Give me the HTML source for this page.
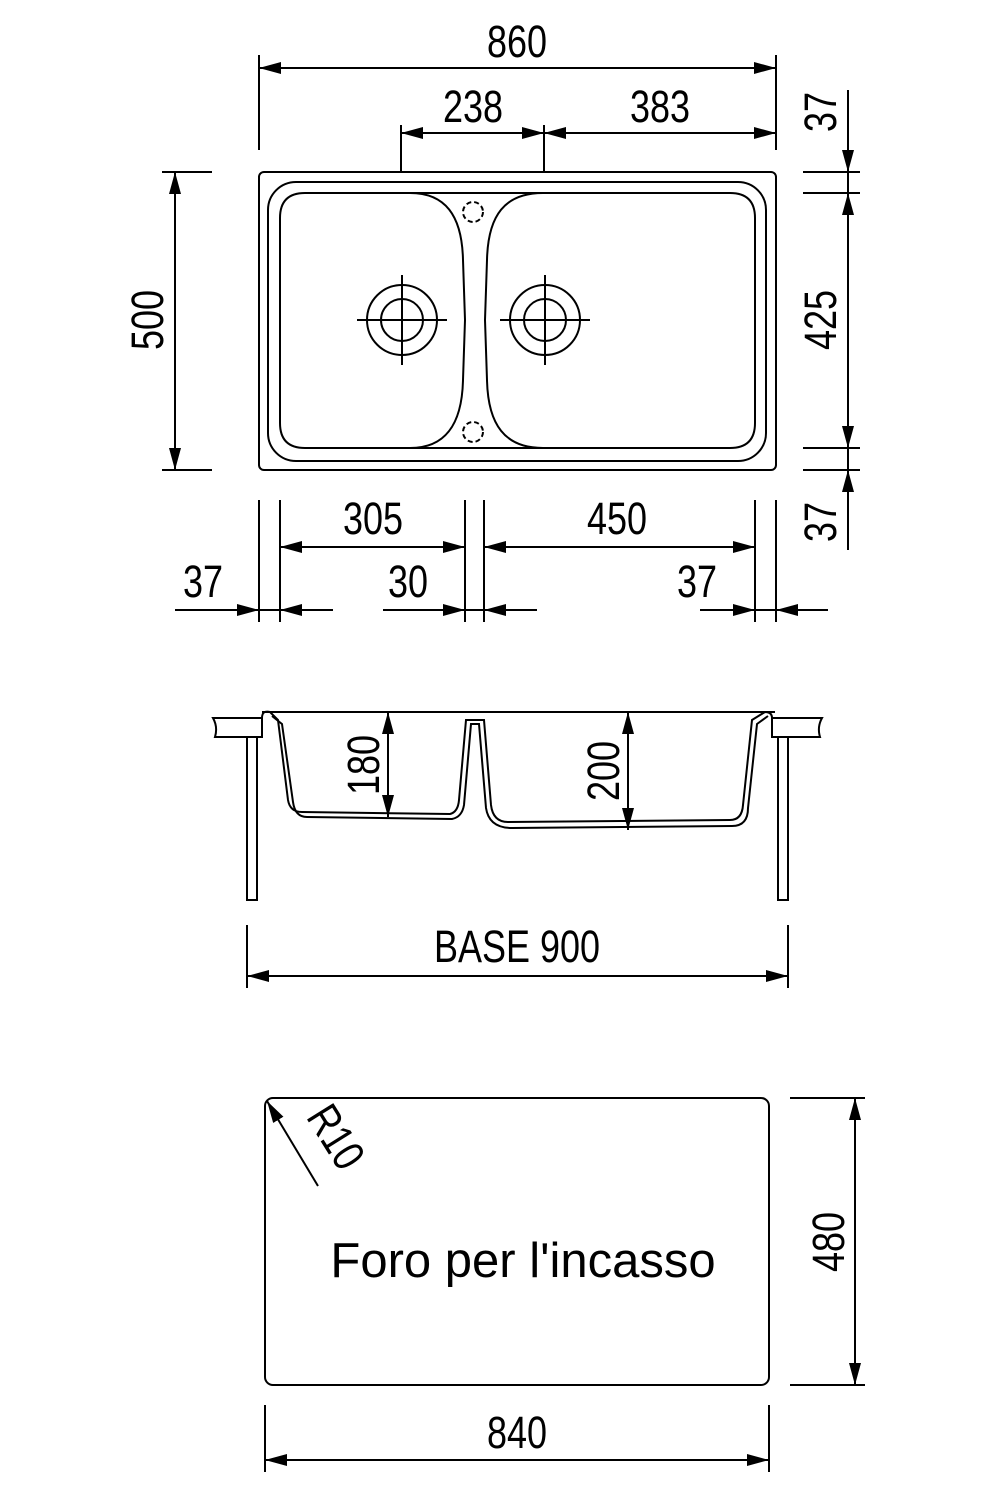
<!DOCTYPE html>
<html><head><meta charset="utf-8"><style>
html,body{margin:0;padding:0;background:#fff}
svg{display:block}
text{font-family:"Liberation Sans",sans-serif;fill:#000}
.d{font-size:45px}
</style></head><body>
<svg width="1000" height="1500" viewBox="0 0 1000 1500" xmlns="http://www.w3.org/2000/svg">
<defs>
<marker id="a" viewBox="0 0 22 12" refX="22" refY="6" markerWidth="22" markerHeight="12" markerUnits="userSpaceOnUse" orient="auto-start-reverse"><path d="M0,0 L22,6 L0,12 Z" fill="#000"/></marker>
</defs>
<g fill="none" stroke="#000" stroke-width="2">
<rect x="259" y="172" width="517" height="298" rx="5"/>
<rect x="268" y="182" width="498" height="279" rx="28"/>
<path d="M305,193 L410,193 C445,193 462,215 463,260 L465,320 L463,380 C462,425 445,448 410,448 L305,448 Q280,448 280,423 L280,218 Q280,193 305,193 Z"/>
<path d="M543,193 L730,193 Q755,193 755,218 L755,423 Q755,448 730,448 L543,448 C505,448 488,425 487,380 L485,320 L487,260 C488,215 505,193 543,193 Z"/>
<line x1="410" y1="193" x2="543" y2="193"/>
<line x1="410" y1="448" x2="543" y2="448"/>
<circle cx="402" cy="320" r="35"/><circle cx="402" cy="320" r="21"/>
<circle cx="545" cy="320" r="35"/><circle cx="545" cy="320" r="21"/>
<line x1="357" y1="320" x2="447" y2="320"/><line x1="402" y1="275" x2="402" y2="365"/>
<line x1="500" y1="320" x2="590" y2="320"/><line x1="545" y1="275" x2="545" y2="365"/>
<circle cx="473" cy="212" r="10" stroke-dasharray="5,3"/>
<circle cx="473" cy="432" r="10" stroke-dasharray="5,3"/>
<line x1="259" y1="55" x2="259" y2="150"/><line x1="776" y1="55" x2="776" y2="150"/>
<line x1="259" y1="68" x2="776" y2="68" marker-start="url(#a)" marker-end="url(#a)"/>
<line x1="401" y1="125" x2="401" y2="172"/><line x1="544" y1="125" x2="544" y2="172"/>
<line x1="401" y1="133" x2="544" y2="133" marker-start="url(#a)" marker-end="url(#a)"/>
<line x1="544" y1="133" x2="776" y2="133" marker-start="url(#a)" marker-end="url(#a)"/>
<line x1="162" y1="172" x2="212" y2="172"/><line x1="162" y1="470" x2="212" y2="470"/>
<line x1="175" y1="172" x2="175" y2="470" marker-start="url(#a)" marker-end="url(#a)"/>
<line x1="803" y1="172" x2="860" y2="172"/><line x1="803" y1="193" x2="860" y2="193"/>
<line x1="803" y1="448" x2="860" y2="448"/><line x1="803" y1="470" x2="860" y2="470"/>
<line x1="848" y1="90" x2="848" y2="172" marker-end="url(#a)"/>
<line x1="848" y1="193" x2="848" y2="448" marker-start="url(#a)" marker-end="url(#a)"/>
<line x1="848" y1="550" x2="848" y2="470" marker-end="url(#a)"/>
<line x1="848" y1="172" x2="848" y2="193"/>
<line x1="848" y1="448" x2="848" y2="470"/>
<line x1="259" y1="500" x2="259" y2="622"/><line x1="280" y1="500" x2="280" y2="622"/>
<line x1="465" y1="500" x2="465" y2="622"/><line x1="484" y1="500" x2="484" y2="622"/>
<line x1="755" y1="500" x2="755" y2="622"/><line x1="776" y1="500" x2="776" y2="622"/>
<line x1="280" y1="547" x2="465" y2="547" marker-start="url(#a)" marker-end="url(#a)"/>
<line x1="484" y1="547" x2="755" y2="547" marker-start="url(#a)" marker-end="url(#a)"/>
<line x1="175" y1="610" x2="259" y2="610" marker-end="url(#a)"/>
<line x1="333" y1="610" x2="280" y2="610" marker-end="url(#a)"/>
<line x1="259" y1="610" x2="280" y2="610"/>
<line x1="383" y1="610" x2="465" y2="610" marker-end="url(#a)"/>
<line x1="537" y1="610" x2="484" y2="610" marker-end="url(#a)"/>
<line x1="465" y1="610" x2="484" y2="610"/>
<line x1="700" y1="610" x2="755" y2="610" marker-end="url(#a)"/>
<line x1="828" y1="610" x2="776" y2="610" marker-end="url(#a)"/>
<line x1="755" y1="610" x2="776" y2="610"/>
<path d="M213,718 L262,718 L262,737 L215,737 Q218,727 213,718 Z"/>
<path d="M822,718 L772,718 L772,737 L820,737 Q817,727 822,718 Z"/>
<rect x="247" y="737" width="10" height="163"/>
<rect x="778" y="737" width="10" height="163"/>
<line x1="262" y1="712" x2="775" y2="712"/>
<path d="M262,718 Q262,710 270,712 L278,720 L288,800 Q290,812 302,812 L450,814 Q458,812 459,800 L466,720 L484,720 L491,805 Q493,822 508,822 L730,820 Q742,820 743,805 L752,720 L765,712 Q772,712 772,718"/>
<path d="M272,716 L282,724 L293,802 Q295,817 307,817 L452,819 Q462,817 464,805 L471,724 L479,724 L486,808 Q489,828 512,828 L732,826 Q748,826 748,808 L757,724 L768,716"/>
<line x1="388" y1="712" x2="388" y2="817" marker-start="url(#a)" marker-end="url(#a)"/>
<line x1="628" y1="712" x2="628" y2="830" marker-start="url(#a)" marker-end="url(#a)"/>
<line x1="247" y1="925" x2="247" y2="988"/><line x1="788" y1="925" x2="788" y2="988"/>
<line x1="247" y1="976" x2="788" y2="976" marker-start="url(#a)" marker-end="url(#a)"/>
<rect x="265" y="1098" width="504" height="287" rx="8"/>
<line x1="318" y1="1186" x2="267" y2="1101" marker-end="url(#a)"/>
<line x1="790" y1="1098" x2="865" y2="1098"/><line x1="790" y1="1385" x2="865" y2="1385"/>
<line x1="855" y1="1098" x2="855" y2="1385" marker-start="url(#a)" marker-end="url(#a)"/>
<line x1="265" y1="1405" x2="265" y2="1472"/><line x1="769" y1="1405" x2="769" y2="1472"/>
<line x1="265" y1="1460" x2="769" y2="1460" marker-start="url(#a)" marker-end="url(#a)"/>
</g>
<g class="d" text-anchor="middle">
<text transform="translate(517,57) scale(0.8,1)">860</text>
<text transform="translate(473,122) scale(0.8,1)">238</text>
<text transform="translate(660,122) scale(0.8,1)">383</text>
<text transform="translate(163,320) rotate(-90) scale(0.8,1)">500</text>
<text transform="translate(836,112) rotate(-90) scale(0.8,1)">37</text>
<text transform="translate(836,320) rotate(-90) scale(0.8,1)">425</text>
<text transform="translate(836,522) rotate(-90) scale(0.8,1)">37</text>
<text transform="translate(373,534) scale(0.8,1)">305</text>
<text transform="translate(617,534) scale(0.8,1)">450</text>
<text transform="translate(203,597) scale(0.8,1)">37</text>
<text transform="translate(408,597) scale(0.8,1)">30</text>
<text transform="translate(697,597) scale(0.8,1)">37</text>
<text transform="translate(379,765) rotate(-90) scale(0.8,1)">180</text>
<text transform="translate(619,771) rotate(-90) scale(0.8,1)">200</text>
<text transform="translate(517,962) scale(0.8,1)">BASE 900</text>
<text transform="translate(323,1145) rotate(58) scale(0.8,1)">R10</text>
<text transform="translate(844,1242) rotate(-90) scale(0.8,1)">480</text>
<text transform="translate(517,1448) scale(0.8,1)">840</text>
<text x="523" y="1277" style="font-size:49px">Foro per l'incasso</text>
</g>
</svg>
</body></html>
